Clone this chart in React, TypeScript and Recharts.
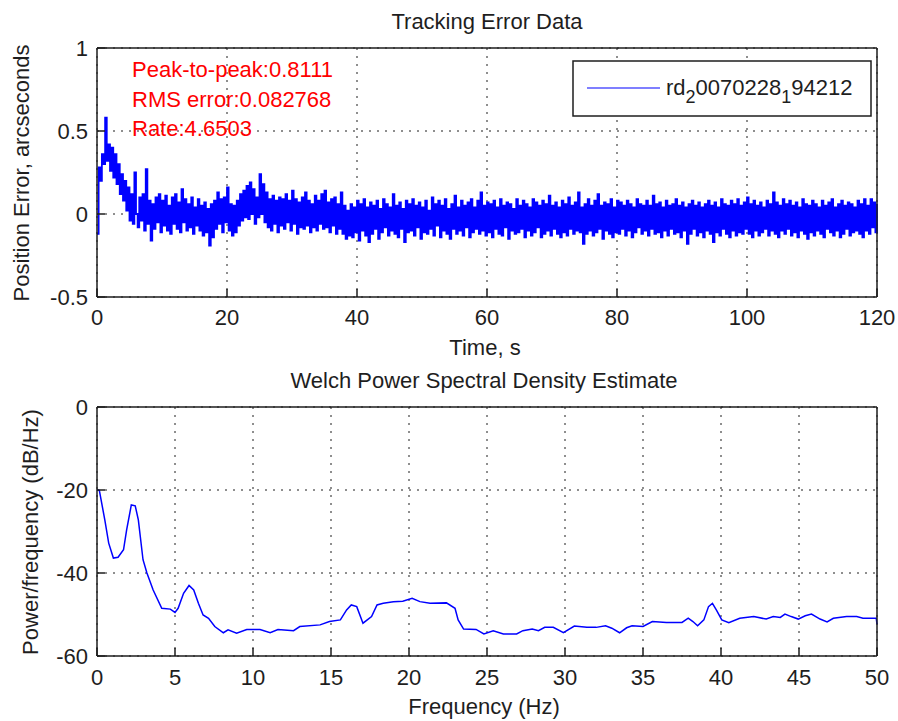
import { CartesianGrid, Line, LineChart, XAxis, YAxis } from "recharts";

const FONT = "'Liberation Sans', Arial, Helvetica, sans-serif";
const INK = "#1e1e1e";
const TRACE = "#0000ff";
const NOTE = "#ff0000";

// position error, arcseconds, one sample every 0.25 s
const SAMPLE_STEP = 0.25;

// 0 - 6 s: start-up transient
const trackingStart = [
  -0.12, 0.28, 0.2, 0.36, 0.3, 0.58, 0.32, 0.42, 0.26, 0.4, 0.22, 0.36, 0.18,
  0.3, 0.12, 0.24, 0.08, 0.2, 0.02, 0.16, -0.04, 0.12, -0.06, 0.25, 0.0,
];

// 6.25 - 20 s
const tracking6to20 = [
  -0.08, 0.1, -0.04, 0.12, -0.1, 0.27, -0.06, 0.08, -0.16, 0.06, -0.09, 0.1,
  -0.05, 0.12, -0.11, 0.08, -0.07, 0.11, -0.1, 0.05, -0.12, 0.1, -0.06, 0.12,
  -0.09, 0.07, -0.11, 0.15, -0.05, 0.09, -0.1, 0.06, -0.08, 0.1, -0.12, 0.04,
  -0.07, 0.09, -0.1, 0.05, -0.13, 0.07, -0.11, 0.03, -0.19, 0.06, -0.14, 0.08,
  -0.09, 0.13, -0.06, 0.09, -0.11, 0.1, -0.05, 0.16,
];

// 20.25 - 40 s
const tracking20to40 = [
  -0.1, 0.06, -0.13, 0.05, -0.11, 0.08, -0.07, 0.12, -0.04, 0.14, -0.02, 0.17,
  -0.03, 0.19, 0.0, 0.15, -0.06, 0.1, -0.02, 0.24, 0.0, 0.18, -0.05, 0.13,
  -0.08, 0.09, -0.1, 0.11, -0.06, 0.08, -0.11, 0.1, -0.07, 0.09, -0.09, 0.12,
  -0.05, 0.08, -0.1, 0.14, -0.06, 0.09, -0.12, 0.07, -0.08, 0.1, -0.09, 0.13,
  -0.07, 0.08, -0.11, 0.06, -0.08, 0.11, -0.1, 0.08, -0.06, 0.12, -0.09, 0.14,
  -0.08, 0.07, -0.11, 0.09, -0.07, 0.1, -0.12, 0.06, -0.09, 0.13, -0.12, 0.05,
  -0.15, 0.02, -0.13, 0.06, -0.14, 0.04, -0.11, 0.08,
];

// 40.25 - 80 s
const tracking40to80 = [
  -0.16, 0.06, -0.1, 0.09, -0.13, 0.04, -0.17, 0.07,
  -0.12, 0.05, -0.09, 0.08, -0.15, 0.03, -0.11, 0.09,
  -0.08, 0.06, -0.13, 0.04, -0.1, 0.12, -0.12, 0.05,
  -0.14, 0.07, -0.09, 0.03, -0.17, 0.08, -0.11, 0.06,
  -0.1, 0.09, -0.13, 0.05, -0.08, 0.07, -0.15, 0.04,
  -0.11, 0.08, -0.12, 0.02, -0.09, 0.1, -0.13, 0.06,
  -0.07, 0.08, -0.14, 0.05, -0.1, 0.09, -0.12, 0.03,
  -0.15, 0.06, -0.09, 0.11, -0.12, 0.04, -0.1, 0.08,
  -0.13, 0.05, -0.08, 0.07, -0.14, 0.09, -0.11, 0.04,
  -0.09, 0.08, -0.12, 0.13, -0.1, 0.05, -0.13, 0.07,
  -0.11, 0.06, -0.14, 0.08, -0.09, 0.04, -0.12, 0.09,
  -0.13, 0.05, -0.08, 0.07, -0.15, 0.06, -0.1, 0.03,
  -0.12, 0.09, -0.11, 0.05, -0.09, 0.08, -0.14, 0.06,
  -0.1, 0.04, -0.13, 0.09, -0.11, 0.07, -0.08, 0.05,
  -0.14, 0.08, -0.12, 0.06, -0.1, 0.11, -0.13, 0.05,
  -0.09, 0.07, -0.12, 0.04, -0.14, 0.08, -0.11, 0.06,
  -0.13, 0.1, -0.09, 0.05, -0.12, 0.07, -0.1, 0.13,
  -0.11, 0.04, -0.18, 0.06, -0.12, 0.09, -0.1, 0.05,
  -0.13, 0.08, -0.11, 0.12, -0.09, 0.05, -0.15, 0.07,
  -0.1, 0.06, -0.12, 0.09, -0.14, 0.04, -0.11, 0.08,
];

// 80.25 - 120 s
const tracking80to120 = [
  -0.12, 0.07, -0.09, 0.05, -0.13, 0.08, -0.1, 0.06,
  -0.14, 0.04, -0.11, 0.09, -0.08, 0.06, -0.12, 0.05,
  -0.1, 0.08, -0.13, 0.05, -0.09, 0.11, -0.12, 0.06,
  -0.11, 0.07, -0.14, 0.04, -0.1, 0.08, -0.13, 0.05,
  -0.09, 0.06, -0.12, 0.09, -0.11, 0.05, -0.14, 0.07,
  -0.1, 0.04, -0.18, 0.06, -0.12, 0.08, -0.09, 0.05,
  -0.13, 0.07, -0.11, 0.04, -0.14, 0.06, -0.1, 0.08,
  -0.12, 0.05, -0.17, 0.07, -0.11, 0.04, -0.13, 0.09,
  -0.09, 0.06, -0.12, 0.05, -0.14, 0.08, -0.1, 0.06,
  -0.13, 0.09, -0.11, 0.05, -0.12, 0.07, -0.09, 0.1,
  -0.12, 0.06, -0.14, 0.08, -0.1, 0.05, -0.13, 0.07,
  -0.11, 0.04, -0.09, 0.08, -0.13, 0.06, -0.1, 0.13,
  -0.12, 0.07, -0.14, 0.05, -0.1, 0.09, -0.12, 0.06,
  -0.09, 0.08, -0.13, 0.05, -0.11, 0.07, -0.14, 0.04,
  -0.1, 0.09, -0.12, 0.06, -0.15, 0.05, -0.11, 0.08,
  -0.13, 0.06, -0.1, 0.04, -0.12, 0.08, -0.14, 0.05,
  -0.09, 0.07, -0.11, 0.09, -0.13, 0.04, -0.1, 0.06,
  -0.14, 0.08, -0.12, 0.05, -0.09, 0.07, -0.13, 0.06,
  -0.11, 0.04, -0.1, 0.08, -0.12, 0.06, -0.14, 0.09,
  -0.1, 0.05, -0.12, 0.09, -0.08, 0.07, -0.11, 0.06,
];

const timeTicks = [0, 20, 40, 60, 80, 100, 120];
const errorTicks = [-0.5, 0, 0.5, 1];

// Welch PSD estimate
const psdFreq = [
  0, 0.15, 0.5, 0.75, 1.05, 1.35, 1.7, 1.9, 2.2, 2.45, 2.65, 2.95, 3.2, 3.6,
  4.15, 4.7, 5.0, 5.2, 5.55, 5.9, 6.2, 6.5, 6.8, 7.15, 7.55, 8.1, 8.4, 8.95,
  9.6, 10.45, 11.1, 11.6, 12.6, 13.0, 14.3, 14.9, 15.6, 16.0, 16.3, 16.65,
  17.05, 17.6, 17.95, 18.35, 19.0, 19.6, 20.2, 20.7, 21.35, 22.4, 22.95, 23.15,
  23.5, 24.3, 24.8, 25.4, 26.05, 26.9, 27.3, 27.9, 28.3, 28.7, 29.25, 29.9,
  30.6, 31.4, 32.0, 32.6, 33.0, 33.5, 33.95, 34.3, 35.0, 35.6, 36.5, 37.5,
  37.9, 38.2, 38.5, 38.9, 39.2, 39.45, 39.7, 40.05, 40.5, 41.2, 42.1, 42.9,
  43.35, 43.8, 44.1, 44.5, 44.95, 45.4, 45.8, 46.35, 46.8, 47.2, 48.05, 48.7,
  49.1, 49.95, 50,
];
const psdLevel = [
  -20, -20.1, -27.2, -32.8, -36.4, -36.2, -34.4, -29.6, -23.6, -23.8, -27.2,
  -36.8, -40, -44.1, -48.5, -48.7, -49.5, -48.5, -44.9, -43.0, -44.1, -47.3,
  -50.1, -50.9, -52.9, -54.4, -53.7, -54.5, -53.6, -53.6, -54.4, -53.6, -53.9,
  -52.9, -52.5, -51.7, -51.3, -48.9, -47.7, -48.1, -52.1, -50.5, -47.7, -47.3,
  -46.9, -46.8, -46.1, -46.9, -47.3, -47.2, -48.5, -51.3, -53.5, -53.6, -54.7,
  -53.9, -54.7, -54.7, -53.9, -53.5, -53.9, -53.1, -53.1, -54.4, -52.8, -53.1,
  -53.1, -52.7, -53.3, -54.4, -53.2, -52.7, -52.9, -51.7, -51.9, -51.9, -50.9,
  -51.7, -52.7, -51.3, -48.1, -47.3, -48.9, -51.3, -52.0, -50.9, -50.5, -51.1,
  -50.5, -50.7, -49.9, -50.5, -51.1, -50.3, -49.9, -51.1, -51.8, -50.9, -50.5,
  -50.5, -50.9, -50.9, -52.3,
];

const freqTicks = [0, 5, 10, 15, 20, 25, 30, 35, 40, 45, 50];
const levelTicks = [-60, -40, -20, 0];

const stats = ["Peak-to-peak:0.8111", "RMS error:0.082768", "Rate:4.6503"];
const legendParts = [
  { text: "rd", sub: false },
  { text: "2", sub: true },
  { text: "0070228", sub: false },
  { text: "1", sub: true },
  { text: "94212", sub: false },
];

const trackingError = [
  ...trackingStart,
  ...tracking6to20,
  ...tracking20to40,
  ...tracking40to80,
  ...tracking80to120,
];
const trackingData = trackingError.map((value, index) => ({ t: index * SAMPLE_STEP, value }));
const psdData = psdFreq.map((f, index) => ({ f, level: psdLevel[index] }));

const tickFont = { fill: INK, fontSize: 22, fontFamily: FONT };
const axisStroke = { stroke: INK, strokeWidth: 1.5 };

export default function App() {
  return (
    <div style={{ position: "absolute", left: 0, top: 0, width: 898, height: 721, background: "#fff" }}>
      <div style={{ position: "absolute", left: 0, top: 0 }}>
        <LineChart width={898} height={360} data={trackingData} margin={{ top: 47, right: 20, bottom: 0, left: 0 }}>
          <CartesianGrid stroke={INK} strokeDasharray="2 6" />
          <XAxis
            type="number"
            dataKey="t"
            domain={[0, 120]}
            ticks={timeTicks}
            interval={0}
            height={63}
            tickSize={-8}
            tickMargin={20}
            tick={tickFont}
            axisLine={axisStroke}
            tickLine={axisStroke}
          />
          <XAxis xAxisId="top" orientation="top" type="number" domain={[0, 120]} ticks={timeTicks} interval={0} height={1} tickSize={-8} tick={false} axisLine={axisStroke} tickLine={axisStroke} />
          <YAxis
            type="number"
            domain={[-0.5, 1]}
            ticks={errorTicks}
            interval={0}
            width={97}
            tickSize={-8}
            tickMargin={17}
            tick={tickFont}
            axisLine={axisStroke}
            tickLine={axisStroke}
          />
          <YAxis yAxisId="right" orientation="right" type="number" domain={[-0.5, 1]} ticks={errorTicks} interval={0} width={1} tickSize={-8} tick={false} axisLine={axisStroke} tickLine={axisStroke} />
          <Line type="stepAfter" dataKey="value" stroke={TRACE} strokeWidth={1.8} dot={false} isAnimationActive={false} />
        </LineChart>
      </div>

      <div style={{ position: "absolute", left: 0, top: 360 }}>
        <LineChart width={898} height={361} data={psdData} margin={{ top: 46, right: 20, bottom: 0, left: 0 }}>
          <CartesianGrid stroke={INK} strokeDasharray="2 6" />
          <XAxis
            type="number"
            dataKey="f"
            domain={[0, 50]}
            ticks={freqTicks}
            interval={0}
            height={65}
            tickSize={-8}
            tickMargin={21}
            tick={tickFont}
            axisLine={axisStroke}
            tickLine={axisStroke}
          />
          <XAxis xAxisId="top" orientation="top" type="number" domain={[0, 50]} ticks={freqTicks} interval={0} height={1} tickSize={-8} tick={false} axisLine={axisStroke} tickLine={axisStroke} />
          <YAxis
            type="number"
            domain={[-60, 0]}
            ticks={levelTicks}
            interval={0}
            width={97}
            tickSize={-8}
            tickMargin={17}
            tick={tickFont}
            axisLine={axisStroke}
            tickLine={axisStroke}
          />
          <YAxis yAxisId="right" orientation="right" type="number" domain={[-60, 0]} ticks={levelTicks} interval={0} width={1} tickSize={-8} tick={false} axisLine={axisStroke} tickLine={axisStroke} />
          <Line type="linear" dataKey="level" stroke={TRACE} strokeWidth={1.5} dot={false} isAnimationActive={false} />
        </LineChart>
      </div>

      <svg
        width={898}
        height={721}
        style={{ position: "absolute", left: 0, top: 0, pointerEvents: "none" }}
        fontFamily={FONT}
        fontSize={22}
        fill={INK}
      >
        <text x={487} y={29} textAnchor="middle">Tracking Error Data</text>
        <text x={485} y={355} textAnchor="middle">Time, s</text>
        <text transform="translate(29 173) rotate(-90)" textAnchor="middle">Position Error, arcseconds</text>

        <text x={484} y={388} textAnchor="middle">Welch Power Spectral Density Estimate</text>
        <text x={484} y={714} textAnchor="middle">Frequency (Hz)</text>
        <text transform="translate(38 532) rotate(-90)" textAnchor="middle">Power/frequency (dB/Hz)</text>

        {stats.map((line, index) => (
          <text key={line} x={132} y={77 + index * 29.5} fill={NOTE}>
            {line}
          </text>
        ))}

        <rect x={573} y={61} width={298} height={55} fill="#fff" stroke={INK} strokeWidth={1.5} />
        <line x1={587} x2={660} y1={88} y2={88} stroke={TRACE} strokeWidth={1.2} />
        <text x={666} y={95}>
          {legendParts.map((part, index) => {
            const prev = legendParts[index - 1];
            const shift = part.sub ? 8 : prev && prev.sub ? -8 : 0;
            return (
              <tspan key={index} dy={shift} fontSize={part.sub ? 18 : 22}>
                {part.text}
              </tspan>
            );
          })}
        </text>
      </svg>
    </div>
  );
}
